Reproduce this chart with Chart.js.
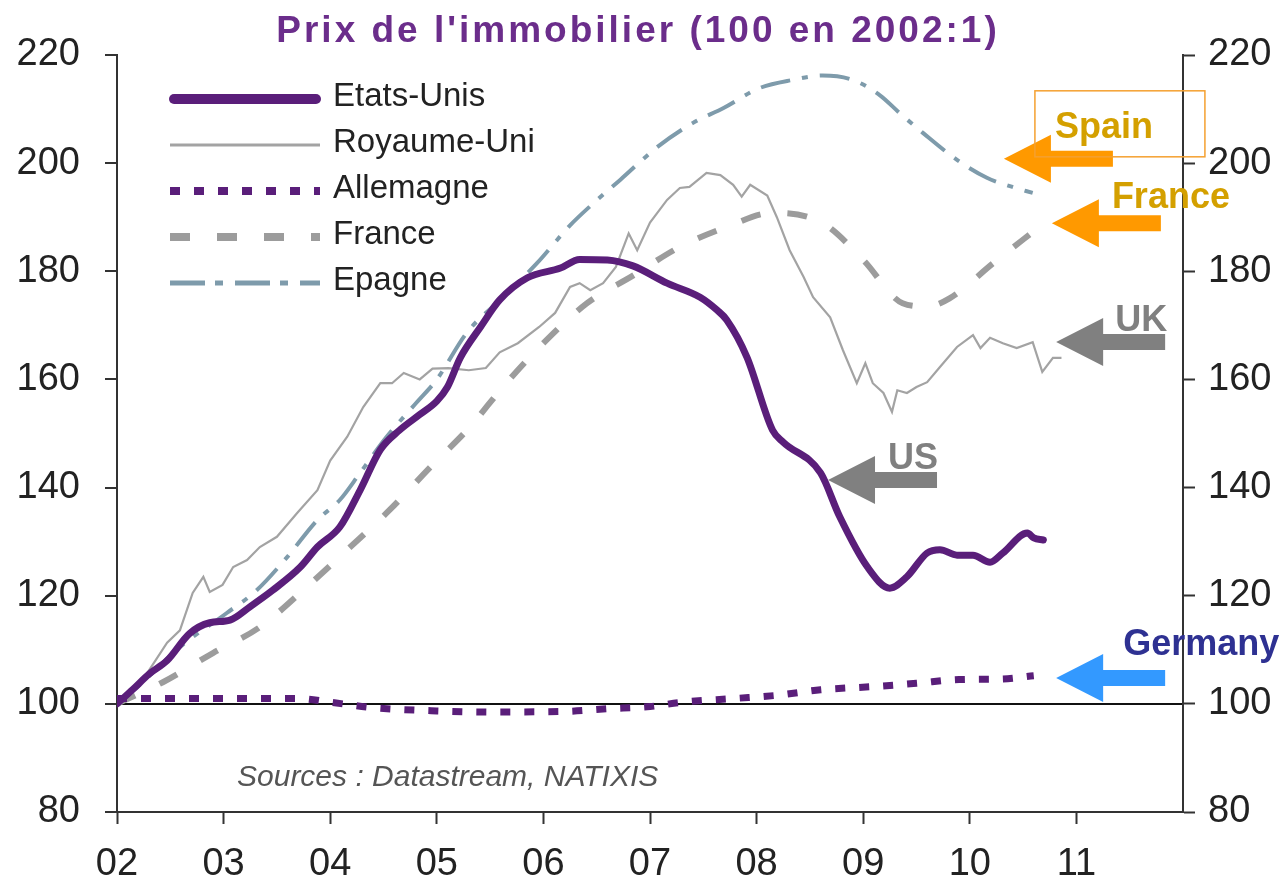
<!DOCTYPE html>
<html>
<head>
<meta charset="utf-8">
<title>Prix de l'immobilier</title>
<script src="https://cdn.jsdelivr.net/npm/chart.js@4/dist/chart.umd.min.js"></script>
<style>
  html, body { margin: 0; padding: 0; background: #fff; }
  #wrap { width: 1286px; height: 890px; }
</style>
</head>
<body>
<div id="wrap"><canvas id="chart"></canvas></div>
<script>
// ── Data (100 en 2002:1), x = decimal year ──
const yearTicks = [2002, 2003, 2004, 2005, 2006, 2007, 2008, 2009, 2010, 2011];

const usYears = [2002.0, 2002.15, 2002.3, 2002.47, 2002.68, 2002.87, 2003.06, 2003.25, 2003.46, 2003.72,
  2003.88, 2004.09, 2004.28, 2004.47, 2004.65, 2004.84, 2005.0, 2005.1, 2005.22, 2005.41, 2005.59,
  2005.85, 2006.16, 2006.34, 2006.6, 2006.84, 2007.16, 2007.47, 2007.63, 2007.72, 2007.91, 2008.15,
  2008.25, 2008.6, 2008.78, 2009.04, 2009.25, 2009.41, 2009.6, 2009.72, 2009.88, 2010.03, 2010.19,
  2010.31, 2010.54, 2010.6, 2010.69];
const usValues = [100, 102.7, 105.5, 108, 113, 115, 115.5, 118, 121, 125.3,
  129, 132.7, 139.5, 147, 150.6, 153.5, 156, 158.6, 164, 169.7, 174.7,
  178.8, 180.6, 182.2, 182.1, 181, 177.8, 175.2, 172.8, 171, 164.1, 150.6,
  148.4, 142.7, 134.6, 125.3, 121.4, 123.5, 127.9, 128.5, 127.5, 127.5, 126.2,
  127.9, 131.6, 130.7, 130.3];

const ukYears = [2002.0, 2002.12, 2002.24, 2002.36, 2002.47, 2002.59, 2002.71, 2002.81, 2002.87, 2002.99,
  2003.09, 2003.22, 2003.34, 2003.5, 2003.69, 2003.88, 2004.0, 2004.16, 2004.31, 2004.47, 2004.58,
  2004.69, 2004.84, 2004.96, 2005.11, 2005.3, 2005.46, 2005.59, 2005.76, 2005.96, 2006.11, 2006.25,
  2006.34, 2006.44, 2006.56, 2006.68, 2006.8, 2006.88, 2007.0, 2007.16, 2007.28, 2007.37, 2007.53,
  2007.66, 2007.78, 2007.86, 2007.94, 2008.1, 2008.19, 2008.31, 2008.44, 2008.53, 2008.69, 2008.81,
  2008.94, 2009.02, 2009.09, 2009.19, 2009.27, 2009.32, 2009.41, 2009.5, 2009.6, 2009.72, 2009.88,
  2010.03, 2010.1, 2010.19, 2010.31, 2010.44, 2010.59, 2010.68, 2010.78, 2010.86];
const ukValues = [100.3, 102, 104.4, 108, 111.3, 113.6, 120.5, 123.5, 120.7, 122,
  125.3, 126.6, 129, 130.9, 135.3, 139.5, 145, 149.4, 154.9, 159.3, 159.3,
  161.2, 160, 162, 162.1, 161.7, 162.1, 165, 166.7, 169.7, 172.3, 177.1,
  177.8, 176.5, 177.8, 180.8, 187, 183.9, 189, 193.2, 195.4, 195.6, 198.2,
  197.8, 196, 193.8, 196, 194, 190, 183.9, 179, 175.2, 171.5, 165.4,
  159.3, 163, 159.3, 157.5, 154, 158, 157.5, 158.6, 159.5, 162.3, 166,
  168.2, 165.8, 167.7, 166.7, 165.8, 166.9, 161.4, 164, 164];

const deYears = [2002.0, 2003.0, 2003.7, 2004.0, 2004.4, 2005.0, 2005.5, 2006.2, 2006.6, 2007.0,
  2007.3, 2007.8, 2008.2, 2008.6, 2009.1, 2009.5, 2009.9, 2010.3, 2010.6];
const deValues = [101, 101, 101, 100.3, 99.3, 98.7, 98.5, 98.6, 99.1, 99.5,
  100.3, 101, 101.6, 102.6, 103.2, 103.8, 104.5, 104.6, 105.2];

const frYears = [2002.0, 2002.43, 2002.9, 2003.34, 2003.78, 2004.16, 2004.56, 2004.94, 2005.31, 2005.62,
  2006.0, 2006.41, 2006.84, 2007.28, 2007.72, 2008.15, 2008.62, 2009.0, 2009.37, 2009.6, 2009.81,
  2010.22, 2010.65];
const frValues = [100, 104, 109.4, 114.2, 121.6, 128.5, 135.9, 143.8, 151.2, 158.6,
  166.7, 174.1, 179.2, 184.5, 188.2, 190.8, 188.9, 182.1, 174.1, 173.5, 175,
  181.5, 188.2];

const esYears = [2002.0, 2002.24, 2002.59, 2003.03, 2003.31, 2003.59, 2003.88, 2004.09, 2004.28, 2004.53,
  2004.8, 2005.0, 2005.28, 2005.62, 2005.94, 2006.25, 2006.47, 2006.72, 2007.07, 2007.4, 2007.69,
  2008.03, 2008.34, 2008.62, 2008.9, 2009.16, 2009.34, 2009.56, 2009.88, 2010.16, 2010.4, 2010.59];
const esValues = [100, 104, 110.5, 116.8, 121, 127, 134, 137.7, 142.7, 149.4,
  155.5, 160, 168.6, 175.2, 181.5, 188.5, 192.6, 196.9, 203, 207.4, 210.2,
  213.9, 215.4, 216.2, 215.4, 212.5, 209.3, 205.6, 200.6, 197.3, 195.6, 194.5];

// Call-out arrows: tip in data coordinates
const calloutLabels = ["Spain", "France", "UK", "US", "Germany"];
const calloutTipYears = [2010.32, 2010.77, 2010.81, 2008.67, 2010.81];
const calloutTipValues = [200.8, 188.9, 166.9, 141.4, 104.8];

const toPoints = (xs, ys) => xs.map((x, i) => ({ x, y: ys[i] }));

const PURPLE = "#5a1e7a";
const FONT = "'Liberation Sans', Arial, sans-serif";

const datasets = [
  {
    label: "Etats-Unis", data: toPoints(usYears, usValues),
    borderColor: PURPLE, borderWidth: 7, borderCapStyle: "round", borderJoinStyle: "round",
    cubicInterpolationMode: "monotone", legendWidth: 10, legendDash: [],
  },
  {
    label: "Royaume-Uni", data: toPoints(ukYears, ukValues),
    borderColor: "#a3a3a3", borderWidth: 2.2, tension: 0, legendWidth: 3, legendDash: [],
  },
  {
    label: "Allemagne", data: toPoints(deYears, deValues),
    borderColor: PURPLE, borderWidth: 7, borderDash: [10, 14], cubicInterpolationMode: "monotone",
    legendWidth: 8, legendDash: [10, 14],
  },
  {
    label: "France", data: toPoints(frYears, frValues),
    borderColor: "#9c9c9c", borderWidth: 6, borderDash: [20, 27], cubicInterpolationMode: "monotone",
    legendWidth: 8, legendDash: [20, 27],
  },
  {
    label: "Epagne", data: toPoints(esYears, esValues),
    borderColor: "#7e9bab", borderWidth: 4, borderDash: [30, 12, 6, 12], cubicInterpolationMode: "monotone",
    legendWidth: 5, legendDash: [35, 10, 8, 12],
  },
];

const calloutStyles = {
  Spain:   { arrow: "#ff9900", text: "#d4a000", dx: 51, dy: -34, box: true },
  France:  { arrow: "#ff9900", text: "#d4a000", dx: 60, dy: -28 },
  UK:      { arrow: "#808080", text: "#808080", dx: 59, dy: -24 },
  US:      { arrow: "#808080", text: "#808080", dx: 60, dy: -24 },
  Germany: { arrow: "#3399ff", text: "#2e3192", dx: 67, dy: -36 },
};

// Title, legend, source note and call-outs
const decorations = {
  id: "decorations",
  afterDraw(chart) {
    const { ctx, scales: { x, y } } = chart;
    ctx.save();

    // title
    ctx.fillStyle = "#6b2d8b";
    ctx.font = "bold 37px " + FONT;
    ctx.textAlign = "center";
    ctx.textBaseline = "alphabetic";
    if ("letterSpacing" in ctx) ctx.letterSpacing = "3px";
    ctx.fillText("Prix de l'immobilier (100 en 2002:1)", 638, 42);
    if ("letterSpacing" in ctx) ctx.letterSpacing = "0px";

    // legend
    ctx.textAlign = "left";
    ctx.textBaseline = "middle";
    ctx.font = "33px " + FONT;
    datasets.forEach((ds, i) => {
      const ly = 99 + i * 46;
      ctx.beginPath();
      ctx.strokeStyle = ds.borderColor;
      ctx.lineWidth = ds.legendWidth;
      ctx.lineCap = i === 0 ? "round" : "butt";
      ctx.setLineDash(ds.legendDash);
      ctx.moveTo(i === 0 ? 174 : 170, ly);
      ctx.lineTo(i === 0 ? 316 : 320, ly);
      ctx.stroke();
      ctx.setLineDash([]);
      ctx.fillStyle = "#222";
      ctx.fillText(ds.label, 333, ly - 2);
    });

    // source note
    ctx.font = "italic 30px " + FONT;
    ctx.fillStyle = "#555";
    ctx.textBaseline = "alphabetic";
    ctx.fillText("Sources : Datastream, NATIXIS", 237, 786);

    // call-out arrows
    calloutLabels.forEach((name, i) => {
      const st = calloutStyles[name];
      const tx = x.getPixelForValue(calloutTipYears[i]);
      const ty = y.getPixelForValue(calloutTipValues[i]);
      ctx.fillStyle = st.arrow;
      ctx.beginPath();
      ctx.moveTo(tx, ty);
      ctx.lineTo(tx + 47, ty - 24);
      ctx.lineTo(tx + 47, ty - 8);
      ctx.lineTo(tx + 109, ty - 8);
      ctx.lineTo(tx + 109, ty + 8);
      ctx.lineTo(tx + 47, ty + 8);
      ctx.lineTo(tx + 47, ty + 24);
      ctx.closePath();
      ctx.fill();

      ctx.font = "bold 36px " + FONT;
      ctx.fillStyle = st.text;
      ctx.textAlign = "left";
      ctx.fillText(name, tx + st.dx, ty + st.dy + 13);

      if (st.box) {
        ctx.strokeStyle = "#f5a030";
        ctx.lineWidth = 1.5;
        ctx.strokeRect(tx + 31, ty - 68, 170, 66);
      }
    });
    ctx.restore();
  },
};

const tickFont = { family: FONT, size: 38 };

new Chart(document.getElementById("chart"), {
  type: "line",
  data: { datasets },
  options: {
    responsive: true,
    maintainAspectRatio: false,
    animation: false,
    events: [],
    layout: { padding: { top: 55, bottom: 0, left: 0, right: 0 } },
    elements: { point: { radius: 0 } },
    plugins: { legend: { display: false }, tooltip: { enabled: false }, title: { display: false } },
    scales: {
      x: {
        type: "linear", min: 2002, max: 2012,
        afterBuildTicks: (s) => { s.ticks = yearTicks.map((v) => ({ value: v })); },
        afterFit: (s) => { s.height = 78; },
        ticks: {
          font: tickFont, color: "#222", padding: 18, maxRotation: 0, autoSkip: false,
          callback: (v) => String(v).slice(2),
        },
        grid: { drawOnChartArea: false, tickLength: 12, tickColor: "#333", tickWidth: 2 },
        border: { color: "#333", width: 2 },
      },
      y: {
        position: "left", min: 80, max: 220,
        afterFit: (s) => { s.width = 117; },
        ticks: { stepSize: 20, font: tickFont, color: "#222", padding: 25 },
        grid: {
          color: (c) => (c.tick && c.tick.value === 100 ? "#111" : "rgba(0,0,0,0)"),
          lineWidth: 2, tickLength: 12, tickColor: "#333", tickWidth: 2,
        },
        border: { color: "#333", width: 2 },
      },
      y2: {
        position: "right", min: 80, max: 220,
        afterFit: (s) => { s.width = 103; },
        ticks: { stepSize: 20, font: tickFont, color: "#222", padding: 13 },
        grid: { drawOnChartArea: false, tickLength: 12, tickColor: "#333", tickWidth: 2 },
        border: { color: "#333", width: 2 },
      },
    },
  },
  plugins: [decorations],
});
</script>
</body>
</html>
